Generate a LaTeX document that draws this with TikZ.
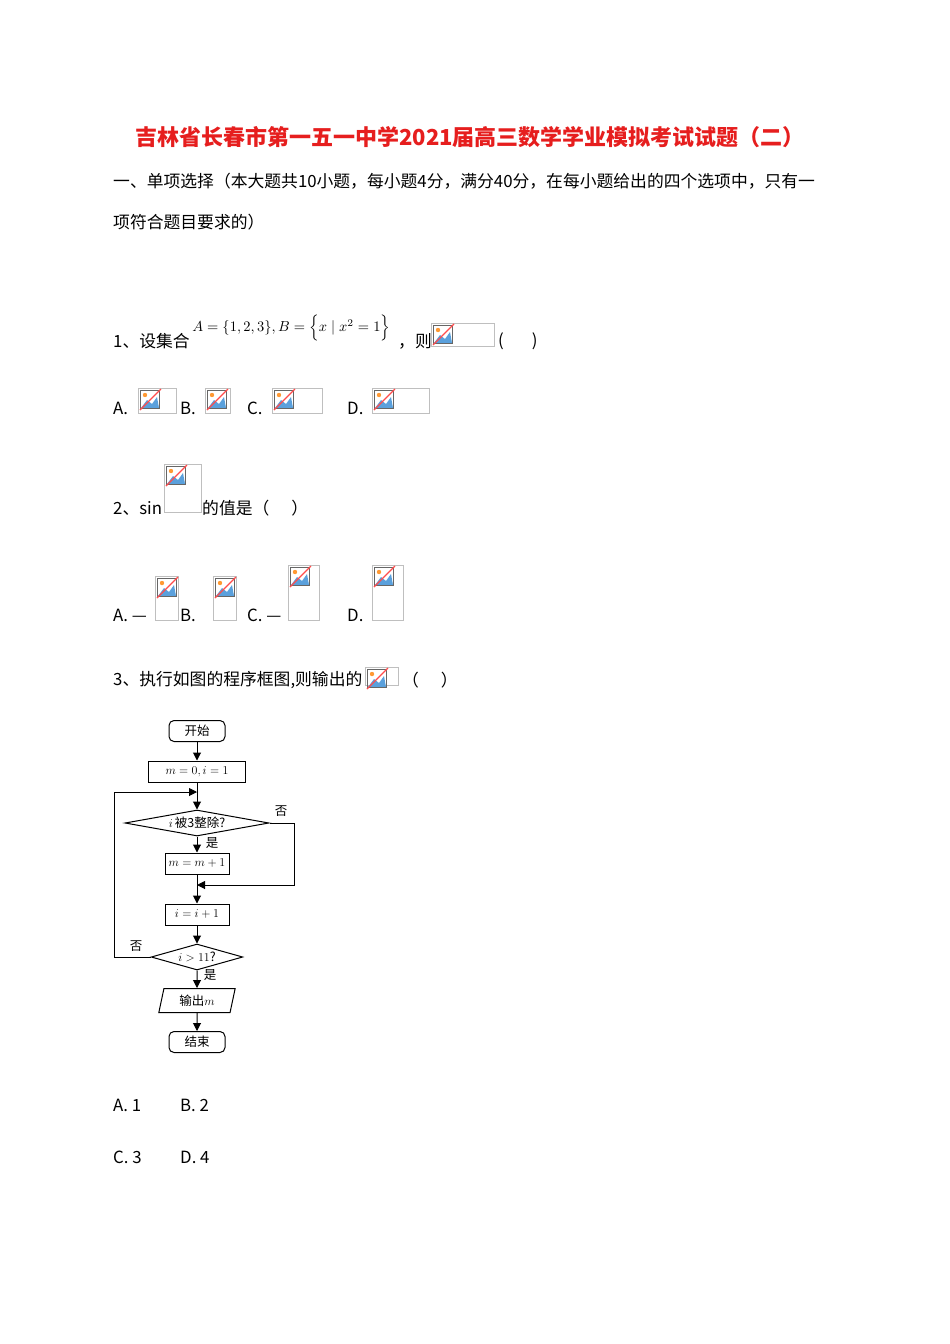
\documentclass[tikz,border=0pt]{standalone}
\usepackage{fontspec}
\setmainfont{Liberation Serif}
\newfontfamily\cjk{Noto Sans CJK SC}
\usetikzlibrary{positioning, shapes.geometric, arrows.meta}
\definecolor{titlered}{RGB}{230,30,30}
\definecolor{skyblue}{RGB}{90,160,220}
\tikzset{
  txt/.style={anchor=west, inner sep=0pt, font=\fontsize{16.8}{16.8}\selectfont\cjk},
  imgbox/.style={draw=black!25, line width=0.8},
  fc/.style={font=\fontsize{12.5}{12.5}\selectfont\cjk, inner sep=1pt},
  procbox/.style={fc, draw, line width=1, minimum height=21, align=center},
  termbox/.style={procbox, rounded corners=5, minimum width=56},
  decbox/.style={fc, draw, line width=1, diamond, aspect=5.5, inner sep=0pt},
  iobox/.style={fc, draw, line width=1, trapezium, trapezium left angle=78, trapezium right angle=102, minimum height=24, minimum width=64},
  flow/.style={line width=1, -{Triangle[length=8,width=8]}}
}
% broken image placeholder: lower-left corner, width, height
\newcommand{\brokenimg}[4]{%
  \draw[imgbox] (#1,#2) rectangle ++(#3,#4);
  \fill[skyblue] (#1+3,#2+20) -- (#1+9,#2+12) -- (#1+14,#2+16) -- (#1+19,#2+9) -- (#1+21,#2+20) -- cycle;
  \draw[black!60, line width=0.6] (#1+2,#2+2) rectangle (#1+21,#2+20);
  \fill[orange!80] (#1+7,#2+7) circle (2.2);
  \draw[red!70, line width=1.2] (#1+2,#2+22) -- (#1+23,#2+1);
}
\begin{document}
\begin{tikzpicture}[x=1pt, y=-1pt]
  \useasboundingbox[fill=white] (0,0) rectangle (950,1344);
  % title
  \node[font=\fontsize{22}{22}\selectfont\cjk\bfseries, text=titlered] (title) at (470,137) {吉林省长春市第一五一中学2021届高三数学学业模拟考试试题（二）};
  \node[txt] (sec) at (113,181) {一、单项选择（本大题共10小题，每小题4分，满分40分，在每小题给出的四个选项中，只有一};
  \node[txt] (sec2) at (113,222) {项符合题目要求的）};
  % question 1
  \node[txt] (q1) at (113,341) {1、设集合};
  \node[anchor=west, inner sep=0pt, scale=1.45] (q1m) at (192,328) {$A=\{1,2,3\},B=\left\{x\mid x^2=1\vphantom{\Big|}\right\}$};
  \node[txt] (q1b) at (398,341) {，则};
  \brokenimg{431}{323}{63}{23}
  \node[txt] (q1p) at (498,341) {(\hspace{28pt})};
  \node[txt] (q1a) at (113,408) {A.};
  \brokenimg{138}{388}{38}{25}
  \node[txt] (q1bb) at (180,408) {B.};
  \brokenimg{205}{388}{25}{25}
  \node[txt] (q1c) at (247,408) {C.};
  \brokenimg{272}{388}{50}{25}
  \node[txt] (q1d) at (347,408) {D.};
  \brokenimg{372}{388}{57}{25}
  % question 2
  \node[txt] (q2) at (113,508) {2、sin};
  \brokenimg{164}{464}{37}{48}
  \node[txt] (q2b) at (202,508) {的值是（\hspace{22pt}）};
  \node[txt] (q2a) at (113,615) {A.\ —};
  \brokenimg{155}{576}{23}{44}
  \node[txt] (q2bb) at (180,615) {B.};
  \brokenimg{213}{576}{23}{44}
  \node[txt] (q2c) at (247,615) {C.\ —};
  \brokenimg{288}{565}{31}{55}
  \node[txt] (q2d) at (347,615) {D.};
  \brokenimg{372}{565}{31}{55}
  % question 3
  \node[txt] (q3) at (113,680) {3、执行如图的程序框图,则输出的};
  \brokenimg{365}{667}{33}{18}
  \node[txt] (q3p) at (402,680) {（\hspace{22pt}）};
  % flowchart
  \node[termbox] (start) at (197,731) {开始};
  \node[procbox, minimum width=97] (init) at (197,771.5) {$m=0,i=1$};
  \coordinate (loop) at (197,792);
  \node[decbox, minimum width=144, minimum height=26] (div) at (197,823) {$i$\,被3整除?};
  \node[procbox, minimum width=64] (inc) at (197,863.5) {$m=m+1$};
  \coordinate (join) at (197,885);
  \node[procbox, minimum width=64] (step) at (197,914.5) {$i=i+1$};
  \node[decbox, minimum width=90, minimum height=26] (test) at (197,957) {$i>11$?};
  \node[iobox] (out) at (197,1000.5) {输出$m$};
  \node[termbox] (stop) at (197,1042) {结束};
  \draw[flow] (start) -- (init);
  \draw[flow] (init) -- (div);
  \draw[flow] (div) -- (inc);
  \draw[flow] (inc) -- (step);
  \draw[flow] (step) -- (test);
  \draw[flow] (test) -- (out);
  \draw[flow] (out) -- (stop);
  \draw[flow] (div.east) -- (294,823) -- (294,885) -- (join);
  \draw[flow] (test.west) -- (114,957) -- (114,792) -- (loop);
  \node[fc] (no1) at (281,811) {否};
  \node[fc] (yes1) at (212,843) {是};
  \node[fc] (no2) at (136,946) {否};
  \node[fc] (yes2) at (210,975) {是};
  % answers
  \node[txt] (a3a) at (113,1105) {A.\ 1};
  \node[txt] (a3b) at (180,1105) {B.\ 2};
  \node[txt] (a3c) at (113,1157) {C.\ 3};
  \node[txt] (a3d) at (180,1157) {D.\ 4};
\end{tikzpicture}
\end{document}
